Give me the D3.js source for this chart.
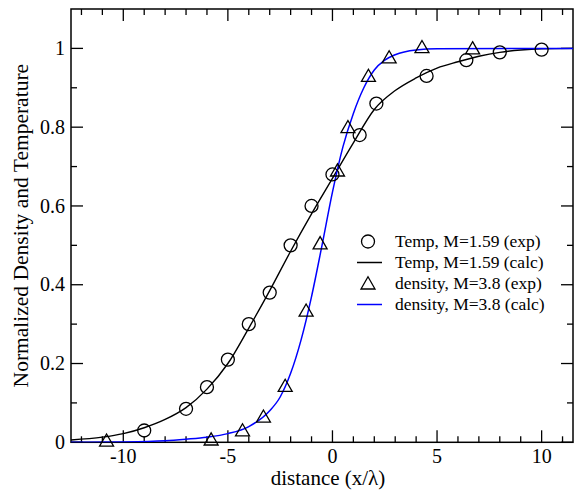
<!DOCTYPE html>
<html>
<head>
<meta charset="utf-8">
<script src="https://cdn.jsdelivr.net/npm/d3@7"></script>
<style>
  html, body { margin: 0; padding: 0; background: #fff; overflow: hidden; }
  svg { display: block; }
  text { font-family: "Liberation Serif", "Times New Roman", serif; fill: #000; }
</style>
</head>
<body>
<svg id="chart" width="574" height="492"></svg>
<script>
// ---- Data ----
const tempExpX = [-9, -7, -6, -5, -4, -3, -2, -1, 0, 1.3, 2.1, 4.5, 6.4, 8, 10];
const tempExpY = [0.03, 0.085, 0.14, 0.21, 0.30, 0.38, 0.50, 0.60, 0.68, 0.78, 0.86, 0.93, 0.97, 0.99, 0.997];

const densExpX = [-10.8, -5.8, -4.3, -3.3, -2.26, -1.26, -0.59, 0.24, 0.74, 1.72, 2.71, 4.28, 6.7];
const densExpY = [0.004, 0.007, 0.03, 0.065, 0.143, 0.334, 0.505, 0.69, 0.80, 0.93, 0.977, 1.003, 1.0];

const tempCalcX = [-12.5, -11, -10, -9, -8, -7, -6, -5, -4, -3, -2, -1, 0, 1, 2, 3, 4, 5, 6, 7, 8, 9, 10, 11.5];
const tempCalcY = [0.006, 0.013, 0.022, 0.037, 0.058, 0.088, 0.135, 0.2, 0.29, 0.385, 0.485, 0.58, 0.67, 0.76, 0.845, 0.893, 0.925, 0.95, 0.966, 0.98, 0.99, 0.996, 0.999, 1.0];

const densCalcX = [-12.5, -10, -8, -7, -6, -5, -4, -3, -2.5, -2, -1.5, -1, -0.5, 0, 0.5, 1, 1.5, 2, 2.5, 3, 4, 5, 11.5];
const densCalcY = [0.0, 0.001, 0.004, 0.008, 0.013, 0.022, 0.04, 0.08, 0.115, 0.175, 0.26, 0.37, 0.50, 0.635, 0.75, 0.835, 0.9, 0.945, 0.97, 0.984, 0.996, 0.999, 1.0];

const xMajorTicks = [-10, -5, 0, 5, 10];
const yMajorTicks = [0, 0.2, 0.4, 0.6, 0.8, 1];
const yTickLabels = ["0", "0.2", "0.4", "0.6", "0.8", "1"];

const legendLabels = ["Temp, M=1.59 (exp)", "Temp, M=1.59 (calc)", "density, M=3.8 (exp)", "density, M=3.8 (calc)"];

// ---- Layout ----
const svg = d3.select("#chart");
const L = 71, R = 573, T = 9, B = 442.3;
const x = d3.scaleLinear().domain([-12.5, 11.5]).range([L, R]);
const y = d3.scaleLinear().domain([0, 1.1]).range([B, T]);

const xMinor = d3.range(-12, 12, 1).filter(v => !xMajorTicks.includes(v));
const yMinor = d3.range(0.1, 1.1, 0.2).map(v => +v.toFixed(2));

const gAx = svg.append("g").attr("stroke", "#000").attr("stroke-width", 1.3);
// frame
svg.append("rect").attr("x", L).attr("y", T).attr("width", R - L).attr("height", B - T)
  .attr("fill", "none").attr("stroke", "#000").attr("stroke-width", 1.5);

const maj = 12, mnr = 6;
xMajorTicks.forEach(v => {
  gAx.append("line").attr("x1", x(v)).attr("x2", x(v)).attr("y1", B).attr("y2", B - maj);
  gAx.append("line").attr("x1", x(v)).attr("x2", x(v)).attr("y1", T).attr("y2", T + maj);
});
xMinor.forEach(v => {
  gAx.append("line").attr("x1", x(v)).attr("x2", x(v)).attr("y1", B).attr("y2", B - mnr);
  gAx.append("line").attr("x1", x(v)).attr("x2", x(v)).attr("y1", T).attr("y2", T + mnr);
});
yMajorTicks.forEach(v => {
  gAx.append("line").attr("x1", L).attr("x2", L + maj).attr("y1", y(v)).attr("y2", y(v));
  gAx.append("line").attr("x1", R).attr("x2", R - maj).attr("y1", y(v)).attr("y2", y(v));
});
yMinor.forEach(v => {
  gAx.append("line").attr("x1", L).attr("x2", L + mnr).attr("y1", y(v)).attr("y2", y(v));
  gAx.append("line").attr("x1", R).attr("x2", R - mnr).attr("y1", y(v)).attr("y2", y(v));
});

// tick labels
xMajorTicks.forEach(v => {
  svg.append("text").attr("x", x(v)).attr("y", 463).attr("text-anchor", "middle")
    .attr("font-size", 20).text(String(v));
});
yMajorTicks.forEach((v, i) => {
  svg.append("text").attr("x", 65).attr("y", y(v)).attr("dy", "0.33em").attr("text-anchor", "end")
    .attr("font-size", 20).text(yTickLabels[i]);
});

// axis titles
svg.append("text").attr("x", 328).attr("y", 485).attr("text-anchor", "middle")
  .attr("font-size", 21).text("distance (x/λ)");
svg.append("text").attr("transform", "translate(28," + ((T + B) / 2) + ") rotate(-90)")
  .attr("text-anchor", "middle").attr("font-size", 21.5).text("Normalized Density and Temperature");

// curves
const line = d3.line().x(d => x(d[0])).y(d => y(d[1])).curve(d3.curveMonotoneX);
const tempCalc = tempCalcX.map((v, i) => [v, tempCalcY[i]]);
const densCalc = densCalcX.map((v, i) => [v, densCalcY[i]]);
svg.append("clipPath").attr("id", "clip").append("rect")
  .attr("x", L).attr("y", T).attr("width", R - L).attr("height", B - T);
svg.append("path").datum(tempCalc).attr("d", line).attr("fill", "none")
  .attr("stroke", "#000").attr("stroke-width", 1.4).attr("clip-path", "url(#clip)");
svg.append("path").datum(densCalc).attr("d", line).attr("fill", "none")
  .attr("stroke", "#0000ff").attr("stroke-width", 1.5).attr("clip-path", "url(#clip)");

// markers
const circR = 6.5;
const triPath = (cx, cy, s) => {
  const h = s * 0.87;
  return `M${cx},${cy - h * 0.55}L${cx + s / 2},${cy + h * 0.45}L${cx - s / 2},${cy + h * 0.45}Z`;
};
tempExpX.forEach((v, i) => {
  svg.append("circle").attr("cx", x(v)).attr("cy", y(tempExpY[i])).attr("r", circR)
    .attr("fill", "none").attr("stroke", "#000").attr("stroke-width", 1.3);
});
densExpX.forEach((v, i) => {
  svg.append("path").attr("d", triPath(x(v), y(densExpY[i]), 14))
    .attr("fill", "none").attr("stroke", "#000").attr("stroke-width", 1.3);
});

// legend
const lgTX = 395, lgY0 = 241.5, lgDY = 21;
const lg = svg.append("g");
legendLabels.forEach((t, i) => {
  const cy = lgY0 + i * lgDY;
  if (i === 0) {
    lg.append("circle").attr("cx", 368).attr("cy", cy).attr("r", circR)
      .attr("fill", "none").attr("stroke", "#000").attr("stroke-width", 1.3);
  } else if (i === 2) {
    lg.append("path").attr("d", triPath(368, cy, 14))
      .attr("fill", "none").attr("stroke", "#000").attr("stroke-width", 1.3);
  } else {
    lg.append("line").attr("x1", 357).attr("x2", 382).attr("y1", cy).attr("y2", cy)
      .attr("stroke", i === 1 ? "#000" : "#0000ff").attr("stroke-width", 1.5);
  }
  lg.append("text").attr("x", lgTX).attr("y", cy).attr("dy", "0.33em")
    .attr("font-size", 17.5).text(t);
});
</script>
</body>
</html>
